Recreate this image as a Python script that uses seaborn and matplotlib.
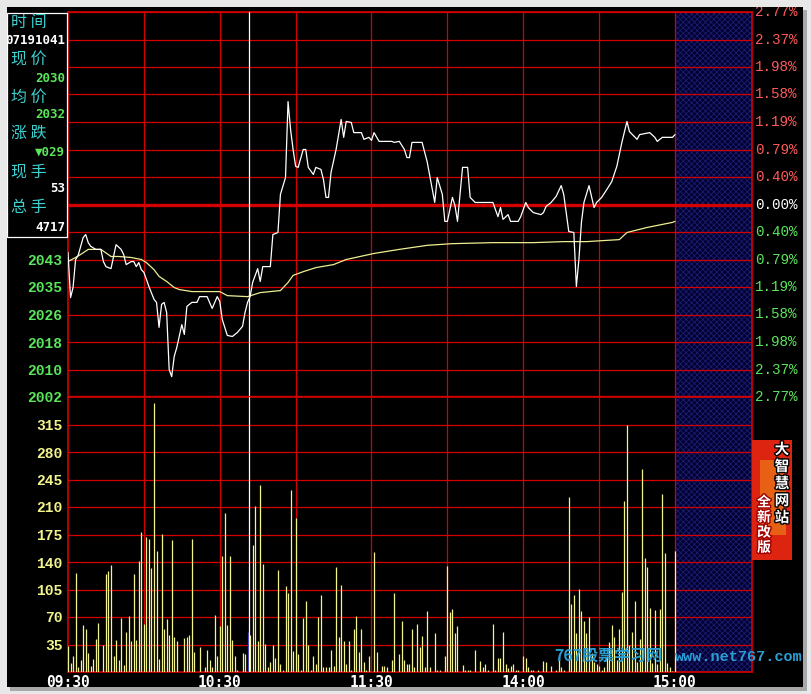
import matplotlib
matplotlib.use("Agg")
import matplotlib.pyplot as plt
import matplotlib.patheffects as pe
from matplotlib.patches import Rectangle
import seaborn as sns

# minute index counted from 09:30, lunch break squeezed out (0..240)
price_min = [0, 1, 2, 3, 4, 6, 7, 8, 9, 11,
             13, 14, 15, 17, 18, 19, 21, 22, 23, 25,
             26, 27, 28, 29, 30, 32, 34, 35, 36, 37,
             38, 39, 40, 41, 42, 43, 45, 46, 47, 49,
             51, 52, 55, 57, 59, 60, 61, 63, 65, 67,
             69, 70, 71, 72, 73, 75, 76, 77, 80, 81,
             83, 84, 86, 87, 88, 89, 90, 91, 93, 94,
             95, 97, 98, 100, 101, 102, 103, 104, 106, 108,
             109, 110, 112, 113, 116, 117, 119, 120, 121, 123,
             128, 129, 131, 133, 134, 135, 136, 140, 142, 145,
             146, 148, 149, 150, 152, 153, 154, 156, 158, 159,
             161, 168, 170, 171, 172, 174, 175, 178, 179, 181,
             182, 184, 187, 188, 189, 191, 193, 195, 196, 198,
             200, 201, 202, 203, 204, 206, 208, 209, 211, 213,
             215, 217, 219, 221, 222, 225, 226, 230, 232, 233,
             235, 239, 240]
price_val = [2044.8, 2031.4, 2034.4, 2042.7, 2043.9, 2049.2, 2050.1, 2047.7, 2046.6, 2045.7,
             2045.7, 2042.1, 2040.6, 2040.0, 2043.6, 2047.1, 2045.7, 2044.2, 2041.2, 2042.1,
             2042.1, 2040.6, 2041.8, 2039.7, 2038.9, 2034.7, 2030.9, 2030.0, 2022.6, 2029.4,
             2030.0, 2027.0, 2010.1, 2008.0, 2014.0, 2016.6, 2023.4, 2020.5, 2028.8, 2030.0,
             2030.0, 2031.7, 2031.7, 2028.2, 2031.7, 2030.3, 2024.9, 2020.2, 2019.9, 2021.1,
             2022.9, 2027.0, 2030.0, 2031.7, 2035.9, 2040.0, 2036.2, 2040.6, 2040.6, 2050.1,
             2050.7, 2062.0, 2067.0, 2089.5, 2081.2, 2075.3, 2070.3, 2070.0, 2075.3, 2075.3,
             2070.0, 2067.9, 2070.0, 2069.4, 2066.4, 2061.1, 2061.1, 2068.5, 2075.3, 2084.2,
             2078.9, 2083.6, 2083.3, 2080.3, 2080.3, 2078.3, 2078.9, 2078.0, 2080.3, 2077.7,
             2077.7, 2077.4, 2077.7, 2075.3, 2072.9, 2072.9, 2077.4, 2077.4, 2071.7, 2059.6,
             2067.0, 2062.0, 2054.0, 2054.0, 2061.1, 2058.7, 2054.0, 2070.0, 2070.0, 2061.1,
             2059.6, 2059.6, 2055.4, 2058.1, 2054.6, 2056.0, 2054.0, 2054.0, 2055.4, 2059.6,
             2058.1, 2056.6, 2056.0, 2056.6, 2058.4, 2059.6, 2061.4, 2064.6, 2062.0, 2051.0,
             2050.7, 2034.7, 2042.7, 2053.7, 2059.6, 2064.6, 2058.1, 2059.6, 2061.1, 2063.4,
             2065.8, 2070.3, 2077.4, 2083.6, 2080.6, 2078.3, 2079.7, 2080.3, 2078.9, 2077.7,
             2078.9, 2078.9, 2079.7]

avg_min = [0, 3, 5, 8, 13, 17, 20, 25, 29, 31,
           34, 36, 39, 42, 44, 49, 60, 63, 71, 76,
           84, 87, 89, 93, 98, 105, 110, 121, 131, 142,
           152, 168, 184, 196, 205, 218, 221, 229, 239, 240]
avg_val = [2042.1, 2043.3, 2044.2, 2045.7, 2045.7, 2043.6, 2043.6, 2043.3, 2042.7, 2041.8,
           2039.7, 2037.7, 2036.2, 2034.4, 2033.8, 2033.2, 2033.2, 2032.0, 2031.7, 2032.9,
           2033.5, 2035.9, 2038.0, 2039.1, 2040.3, 2041.2, 2042.7, 2044.5, 2045.7, 2046.9,
           2047.4, 2047.7, 2047.7, 2048.0, 2048.0, 2048.6, 2050.7, 2052.2, 2053.7, 2054.0]

vol_min_am = [0, 1, 2, 3, 4, 5, 6, 7, 8, 9,
              10, 11, 12, 14, 15, 16, 17, 18, 19, 20,
              21, 22, 23, 24, 25, 26, 27, 28, 29, 30,
              31, 32, 33, 34, 35, 36, 37, 38, 39, 40,
              41, 42, 43, 46, 47, 48, 49, 50, 52, 54,
              55, 56, 57, 58, 59, 60, 61, 62, 63, 64,
              65, 66, 67, 69, 70, 71, 72, 73, 74, 75,
              76, 77, 78, 79, 80, 81, 82, 83, 84, 85,
              86, 87, 88, 89, 90, 91, 92, 93, 94, 95,
              96, 97, 98, 99, 100, 101, 102, 103, 104, 105,
              106, 107, 108, 109, 110, 111, 112, 113, 114, 115,
              116, 117, 118, 119]
vol_am = [33, 11, 20, 126, 6, 15, 60, 55, 24, 8,
          17, 42, 63, 34, 125, 129, 136, 20, 41, 15,
          69, 9, 51, 71, 40, 125, 41, 141, 178, 61,
          172, 169, 133, 342, 154, 17, 176, 55, 67, 47,
          168, 45, 39, 43, 45, 47, 169, 25, 32, 6,
          28, 15, 6, 73, 20, 59, 148, 202, 60, 148,
          41, 20, 3, 24, 23, 51, 47, 162, 211, 39,
          238, 138, 36, 6, 13, 34, 18, 130, 10, 3,
          110, 101, 232, 27, 196, 23, 3, 69, 90, 34,
          3, 20, 10, 70, 98, 7, 7, 6, 28, 8,
          134, 45, 111, 40, 10, 40, 3, 55, 71, 26,
          55, 13, 3, 20]
vol_min_pm = [121, 122, 124, 125, 126, 128, 129, 131, 132, 133,
              134, 135, 136, 137, 138, 139, 140, 141, 142, 143,
              145, 146, 147, 149, 150, 151, 152, 153, 154, 156,
              157, 158, 159, 161, 163, 164, 165, 166, 168, 169,
              170, 171, 172, 173, 174, 175, 176, 177, 178, 180,
              181, 182, 183, 184, 186, 188, 189, 191, 193, 194,
              195, 196, 198, 199, 200, 201, 202, 203, 204, 205,
              206, 207, 208, 209, 210, 211, 212, 213, 214, 215,
              216, 217, 218, 219, 220, 221, 222, 223, 224, 225,
              226, 227, 228, 229, 230, 231, 232, 233, 234, 235,
              236, 237, 238, 239, 240]
vol_pm = [153, 25, 8, 8, 7, 15, 100, 23, 65, 15,
          10, 10, 55, 6, 61, 32, 46, 6, 78, 7,
          50, 3, 3, 20, 135, 76, 80, 50, 59, 9,
          3, 3, 3, 28, 14, 7, 10, 3, 61, 3,
          18, 18, 51, 10, 5, 8, 10, 3, 3, 20,
          18, 6, 3, 3, 3, 14, 13, 8, 3, 17,
          7, 3, 223, 86, 98, 50, 106, 78, 65, 50,
          70, 24, 13, 10, 8, 3, 6, 20, 38, 60,
          45, 15, 55, 102, 218, 314, 35, 51, 90, 13,
          42, 259, 145, 134, 82, 11, 79, 10, 80, 227,
          152, 11, 7, 1, 154]

prev_close = 2059
pct_step = 2.77 / 7
pct_labels = ["2.77%", "2.37%", "1.98%", "1.58%", "1.19%", "0.79%", "0.40%", "0.00%",
              "0.40%", "0.79%", "1.19%", "1.58%", "1.98%", "2.37%", "2.77%"]
price_labels = ["2116", "2108", "2100", "2092", "2083", "2075", "2067", "2059",
                "2051", "2043", "2035", "2026", "2018", "2010", "2002"]
vol_ticks = [35, 70, 105, 140, 175, 210, 245, 280, 315]
time_ticks = [0, 60, 120, 180, 240]
time_labels = ["09:30", "10:30", "11:30", "14:00", "15:00"]
cursor_min = 71.5

info_names = ["时 间", "现 价", "均 价", "涨 跌", "现 手", "总 手"]
info_values = ["07191041", "2030", "2032", "▼029", "53", "4717"]

RED = "#d40000"
UP = "#ff5a5a"
DOWN = "#5ae65a"
YEL = "#f4f48c"
CYAN = "#3cd2d2"

sns.set_theme(style="dark", rc={"axes.facecolor": "black", "figure.facecolor": "#e8e8e8"})
plt.rcParams["font.family"] = ["DejaVu Sans", "Noto Sans CJK SC"]
plt.rcParams["hatch.linewidth"] = 0.6
plt.rcParams["hatch.color"] = "#1c1c74"

W, H = 812, 694
def fx(x): return x / W
def fy(y): return 1 - y / H

fig = plt.figure(figsize=(W / 100, H / 100), dpi=100)
fig.add_artist(Rectangle((fx(7), fy(687)), fx(803) - fx(7), fy(7) - fy(687),
                         transform=fig.transFigure, facecolor="black", edgecolor="none", zorder=-10))

ax = fig.add_axes([fx(68), fy(397), fx(752) - fx(68), fy(12) - fy(397)])
axv = fig.add_axes([fx(68), fy(672), fx(752) - fx(68), fy(397) - fy(672)], sharex=ax)
x_end = 240 * (752 - 68) / (675 - 68)

levels = [prev_close * (1 + k * pct_step / 100) for k in range(7, -8, -1)]

for a in (ax, axv):
    a.set_facecolor("black")
    a.grid(False)
    a.axvspan(240, x_end, facecolor="#00002e", edgecolor="#1c1c74", hatch="xxxxxx", lw=0, zorder=0.5)
    for t in range(30, 241, 30):
        a.axvline(t, color=RED, lw=0.9, zorder=1)
    for s in a.spines.values():
        s.set_color(RED)
        s.set_linewidth(1.2)

for i, lv in enumerate(levels):
    thick = price_labels[i] in ("2059", "2002")
    ax.axhline(lv, color=RED, lw=2.4 if thick else 0.9, zorder=1)
for v in vol_ticks:
    axv.axhline(v, color=RED, lw=0.9, zorder=1)

sns.lineplot(x=avg_min, y=avg_val, ax=ax, color="#eeee90", linewidth=0.9, zorder=3)
sns.lineplot(x=price_min, y=price_val, ax=ax, color="white", linewidth=0.9, zorder=4)

vol_m = vol_min_am + vol_min_pm
vol_v = vol_am + vol_pm
bar_colors = ["#3030c0" if m == int(cursor_min) else YEL for m in vol_m]
axv.vlines(vol_m, 0, vol_v, colors=bar_colors, lw=0.9, zorder=3)

for a in (ax, axv):
    a.axvline(cursor_min, color="white", lw=0.9, zorder=5)

ax.set_xlim(0, x_end)
ax.set_ylim(levels[-1], levels[0])
axv.set_ylim(0, 350)
ax.set_xlabel("")
ax.set_ylabel("")

# the labels from 2116 down to 2051 sit under the info box
shown = [lab if i > 8 else "" for i, lab in enumerate(price_labels)]
ax.set_yticks(levels)
ax.set_yticklabels(shown, family="Liberation Mono", weight="bold", size=10.5)
for i, lbl in enumerate(ax.get_yticklabels()):
    lbl.set_color(UP if i < 7 else ("white" if i == 7 else DOWN))
ax.tick_params(axis="y", length=0, pad=4)
ax.tick_params(axis="x", length=0, labelbottom=False)

axv.set_yticks(vol_ticks)
axv.set_yticklabels([str(v) for v in vol_ticks], family="Liberation Mono", weight="bold",
                    size=10.5, color=YEL)
axv.set_xticks(time_ticks)
axv.set_xticklabels(time_labels, family="DejaVu Sans Mono", weight="bold", size=10.5, color="white")
axv.tick_params(axis="y", length=0, pad=4)
axv.tick_params(axis="x", length=0, pad=2)

for i, lv in enumerate(levels):
    ax.text(1.005, lv, pct_labels[i], transform=ax.get_yaxis_transform(), ha="left", va="center",
            family="Liberation Mono", size=10.3, clip_on=False,
            color=UP if i < 7 else ("white" if i == 7 else DOWN))

# info box over the upper left labels
fig.add_artist(Rectangle((fx(7), fy(237)), fx(67) - fx(7), fy(13) - fy(237), transform=fig.transFigure,
                         facecolor="black", edgecolor="white", lw=0.9, zorder=5))
name_y = [23, 60, 97, 133, 172, 208]
value_y = [41, 78, 115, 152, 189, 227]
value_colors = ["white", DOWN, DOWN, DOWN, "white", "white"]
for name, yy in zip(info_names, name_y):
    fig.text(fx(11), fy(yy), name, color=CYAN, family="Noto Sans CJK SC", size=11.5,
             va="center", ha="left", zorder=6)
for val, yy, c in zip(info_values, value_y, value_colors):
    fig.text(fx(65), fy(yy), val, color=c, family="DejaVu Sans Mono", weight="bold", size=9,
             va="center", ha="right", zorder=6)

# watermark and banner
fig.text(fx(554), fy(656), "767股票学习网", color="#2a9ed2", family="Noto Sans CJK SC",
         weight="bold", size=11.5, va="center", ha="left", zorder=6)
fig.text(fx(675), fy(657), "www.net767.com", color="#2a9ed2", family="Liberation Mono",
         weight="bold", size=11, va="center", ha="left", zorder=6)
fig.add_artist(Rectangle((fx(752), fy(560)), fx(792) - fx(752), fy(440) - fy(560),
                         transform=fig.transFigure, facecolor="#dc2410", edgecolor="none", zorder=6))
fig.add_artist(Rectangle((fx(760), fy(535)), fx(786) - fx(760), fy(460) - fy(535),
                         transform=fig.transFigure, facecolor="#f08a18", edgecolor="none", alpha=0.6, zorder=6))
fig.text(fx(782), fy(483), "大\n智\n慧\n网\n站", color="white", family="Noto Sans CJK SC", weight="bold",
         size=10.5, linespacing=1.08, ha="center", va="center", zorder=7,
         path_effects=[pe.withStroke(linewidth=2, foreground="black")])
fig.text(fx(764), fy(525), "全\n新\n改\n版", color="white", family="Noto Sans CJK SC", weight="bold",
         size=10, linespacing=1.1, ha="center", va="center", zorder=7,
         path_effects=[pe.withStroke(linewidth=2, foreground="#a00000")])

# grey picture frame
for x0, y0, x1, y1, c in [(0, 0, W, 7, "#e8e8e8"), (0, 687, W, H, "#e8e8e8"),
                          (0, 0, 7, H, "#e8e8e8"), (803, 0, W, H, "#e8e8e8"),
                          (803, 10, 807, 690, "#a8a8a8"), (10, 687, 807, 691, "#a8a8a8")]:
    fig.add_artist(Rectangle((fx(x0), fy(y1)), fx(x1) - fx(x0), fy(y0) - fy(y1), transform=fig.transFigure,
                             facecolor=c, edgecolor="none", zorder=20))

fig.savefig("out.png", dpi=100)
